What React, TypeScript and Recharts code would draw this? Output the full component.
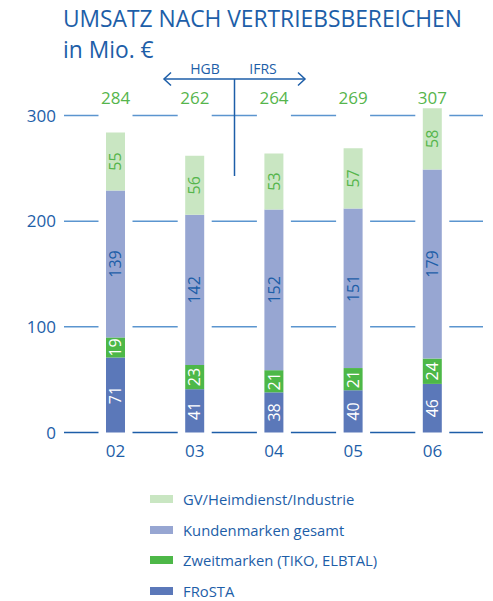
import React from "react";
import {
  Bar,
  BarChart,
  CartesianGrid,
  LabelList,
  Legend,
  XAxis,
  YAxis,
} from "recharts";

const years = ["02", "03", "04", "05", "06"];
const frosta = [71, 41, 38, 40, 46];
const zweitmarken = [19, 23, 21, 21, 24];
const kundenmarken = [139, 142, 152, 151, 179];
const gvHeimdienst = [55, 56, 53, 57, 58];
const totals = [284, 262, 264, 269, 307];
const yTicks = [0, 100, 200, 300];

const BLUE = "#1d5ea8";
const GRID = "#5b95cf";
const GREEN_TEXT = "#56b54c";
const FONT = "'Open Sans', sans-serif";

// stack order, bottom to top
const series = [
  { key: "frosta", name: "FRoSTA", color: "#5b78b9", label: "#ffffff" },
  { key: "zweit", name: "Zweitmarken (TIKO, ELBTAL)", color: "#4db848", label: "#ffffff" },
  { key: "kunden", name: "Kundenmarken gesamt", color: "#97a6d2", label: BLUE },
  { key: "gv", name: "GV/Heimdienst/Industrie", color: "#c9e6c2", label: GREEN_TEXT },
];

const data = years.map((year, i) => ({
  year,
  frosta: frosta[i],
  zweit: zweitmarken[i],
  kunden: kundenmarken[i],
  gv: gvHeimdienst[i],
}));

// white strip behind each column so the grid lines break around the bars
const gapShape = (p: any) => (
  <rect x={p.x - 7.5} y={p.y - 4} width={p.width + 15} height={p.height + 8} fill="#ffffff" />
);

const gridLine = (p: any) => {
  // skip the plot's upper edge, only tick lines are wanted
  if (Math.abs(p.y1 - p.y) < 1) return <g key={p.key} />;
  const isBase = Math.abs(p.y1 - (p.y + p.height)) < 1;
  return (
    <line
      key={p.key}
      x1={p.x1}
      x2={p.x2}
      y1={p.y1}
      y2={p.y2}
      stroke={isBase ? BLUE : GRID}
      strokeWidth={1.5}
    />
  );
};

const legendContent = () => (
  <div style={{ fontFamily: FONT }}>
    {[...series].reverse().map((s) => (
      <div key={s.key} style={{ display: "flex", alignItems: "center", height: 30.5 }}>
        <div style={{ width: 23, height: 8, background: s.color, marginRight: 10 }} />
        <span style={{ color: BLUE, fontSize: 14.8 }}>{s.name}</span>
      </div>
    ))}
  </div>
);

export default function App() {
  return (
    <div style={{ position: "absolute", left: 0, top: 0, width: 493, height: 601, background: "#fff" }}>
      <div style={{ position: "absolute", left: 63, top: 3, color: BLUE, fontFamily: FONT, fontSize: 22.8, lineHeight: "31px" }}>
        <div>UMSATZ NACH VERTRIEBSBEREICHEN</div>
        <div>in Mio. €</div>
      </div>
      <BarChart
        width={493}
        height={601}
        data={data}
        margin={{ top: 0, right: 10, left: 0, bottom: 128.5 }}
        style={{ position: "absolute", left: 0, top: 0 }}
      >
        <CartesianGrid vertical={false} horizontal={gridLine} />
        <XAxis
          dataKey="year"
          height={40}
          padding={{ left: 12, right: 11 }}
          axisLine={false}
          tickLine={false}
          tickSize={0}
          tickMargin={12}
          tick={{ fill: BLUE, fontSize: 17, fontFamily: FONT }}
        />
        <XAxis
          xAxisId="top"
          orientation="top"
          dataKey="year"
          height={105}
          padding={{ left: 12, right: 11 }}
          axisLine={false}
          tickLine={false}
          tickSize={0}
          tickMargin={1}
          tickFormatter={(_v: any, i: number) => String(totals[i])}
          tick={{ fill: GREEN_TEXT, fontSize: 17, fontFamily: FONT }}
        />
        <YAxis
          width={64}
          domain={[0, 310]}
          ticks={yTicks}
          axisLine={false}
          tickLine={false}
          tick={{ fill: BLUE, fontSize: 17, fontFamily: FONT }}
        />
        {series.map((s, idx) => (
          <Bar
            key={s.key}
            dataKey={s.key}
            name={s.name}
            stackId="a"
            fill={s.color}
            barSize={19}
            background={idx === 0 ? gapShape : undefined}
            isAnimationActive={false}
          >
            <LabelList
              dataKey={s.key}
              position="center"
              angle={-90}
              fill={s.label}
              fontSize={16}
              fontFamily={FONT}
            />
          </Bar>
        ))}
        <Legend
          layout="vertical"
          align="center"
          verticalAlign="middle"
          content={legendContent}
          wrapperStyle={{ position: "absolute", left: 150, top: 484, width: 300 }}
        />
      </BarChart>
      <svg
        width={493}
        height={601}
        style={{ position: "absolute", left: 0, top: 0, pointerEvents: "none" }}
      >
        <g stroke={BLUE} strokeWidth={1.5} fill="none">
          <line x1={234.5} y1={79} x2={234.5} y2={176} />
          <line x1={164} y1={79} x2={305} y2={79} />
          <polyline points="171,72.5 164,79 171,85.5" />
          <polyline points="298,72.5 305,79 298,85.5" />
        </g>
        <g fill={BLUE} fontFamily={FONT} fontSize={14} textAnchor="middle">
          <text x={205} y={74}>HGB</text>
          <text x={263} y={74}>IFRS</text>
        </g>
      </svg>
    </div>
  );
}
